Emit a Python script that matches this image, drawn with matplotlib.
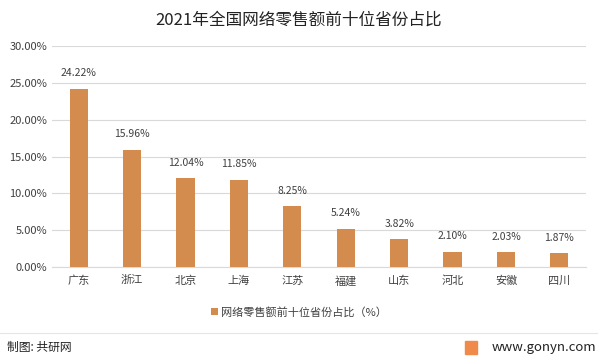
import matplotlib.pyplot as plt
from matplotlib.patches import Rectangle

plt.rcParams['font.family'] = ['Noto Sans CJK SC', 'DejaVu Sans']

provinces = ['广东', '浙江', '北京', '上海', '江苏', '福建', '山东', '河北', '安徽', '四川']
shares = [24.22, 15.96, 12.04, 11.85, 8.25, 5.24, 3.82, 2.10, 2.03, 1.87]
title = '2021年全国网络零售额前十位省份占比'
series_name = '网络零售额前十位省份占比（%）'
bar_color = '#D38C4E'

fig = plt.figure(figsize=(5.98, 3.6), dpi=100)
ax = fig.add_axes([0.087, 0.258, 0.893, 0.614])

x = range(len(provinces))
bars = ax.bar(x, shares, width=0.34, color=bar_color, label=series_name, zorder=3)
for xi, v in zip(x, shares):
    ax.text(xi, v + 1.4, f'{v:.2f}%', ha='center', va='bottom', fontsize=7.5, color='#404040')

ax.set_xlim(-0.5, len(provinces) - 0.5)
ax.set_ylim(0, 30)
ax.set_yticks(range(0, 31, 5))
ax.set_yticklabels([f'{t:.2f}%' for t in range(0, 31, 5)])
ax.set_xticks(list(x))
ax.set_xticklabels(provinces)
ax.tick_params(axis='both', length=0, labelsize=8, colors='#404040')
ax.tick_params(axis='x', pad=6)
ax.grid(axis='y', color='#D9D9D9', linewidth=0.8, zorder=0)
for s in ['top', 'right', 'left']:
    ax.spines[s].set_visible(False)
ax.spines['bottom'].set_color('#D9D9D9')

fig.text(0.5, 0.945, title, ha='center', va='center', fontsize=12, color='#222222')

fig.legend(handles=[bars], labels=[series_name], loc='center', bbox_to_anchor=(0.5, 0.133),
           frameon=False, fontsize=8, handlelength=0.6, handleheight=0.6, handletextpad=0.3,
           labelcolor='#404040')

fig.add_artist(plt.Line2D([0.0, 1.0], [0.075, 0.075], color='#E5E5E5', linewidth=0.8))
fig.text(0.012, 0.035, '制图: 共研网', ha='left', va='center', fontsize=8.5, color='#222222')
fig.text(0.997, 0.035, 'www.gonyn.com', ha='right', va='center', fontsize=9.5, color='#222222')
fig.add_artist(Rectangle((0.778, 0.017), 0.02, 0.035, color='#F08A4B', transform=fig.transFigure))

fig.savefig('out.png', dpi=100)
